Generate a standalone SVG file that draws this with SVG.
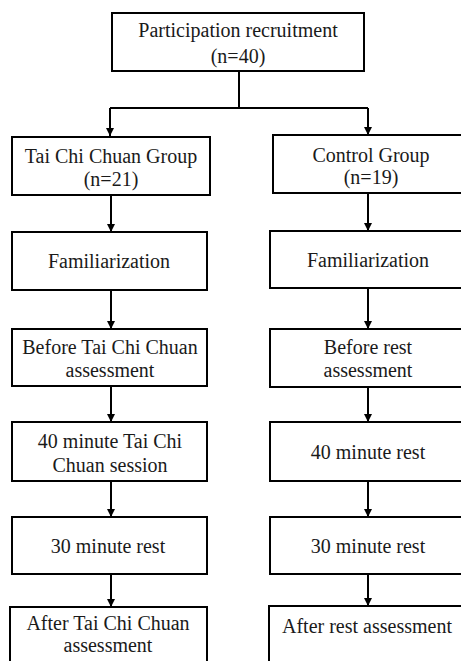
<svg xmlns="http://www.w3.org/2000/svg" width="461" height="661" viewBox="0 0 461 661">
<style>
.box{fill:#fff;stroke:#000;stroke-width:2}
.t{font-family:"Liberation Serif","Times New Roman",serif;font-size:20px;fill:#1a1a1a;text-anchor:middle}
.c{fill:none;stroke:#000;stroke-width:2}
</style>
<defs>
<marker id="ah" markerUnits="userSpaceOnUse" markerWidth="8" markerHeight="8" refX="8" refY="4" orient="auto">
<path d="M0,0 L8,4 L0,8 Z" fill="#000"/>
</marker>
</defs>
<rect width="461" height="661" fill="#fff"/>
<g id="connectors">
<path class="c" d="M239,71 V108"/>
<path class="c" d="M110,108 H368"/>
<path class="c" d="M110,108 V136" marker-end="url(#ah)"/>
<path class="c" d="M368,108 V135" marker-end="url(#ah)"/>
<path class="c" d="M111,195 V232" marker-end="url(#ah)"/>
<path class="c" d="M111,290 V329" marker-end="url(#ah)"/>
<path class="c" d="M111,386 V422" marker-end="url(#ah)"/>
<path class="c" d="M111,481 V517" marker-end="url(#ah)"/>
<path class="c" d="M111,574 V607" marker-end="url(#ah)"/>
<path class="c" d="M368,193 V231" marker-end="url(#ah)"/>
<path class="c" d="M368,288 V329" marker-end="url(#ah)"/>
<path class="c" d="M368,387 V422" marker-end="url(#ah)"/>
<path class="c" d="M368,481 V517" marker-end="url(#ah)"/>
<path class="c" d="M368,574 V606" marker-end="url(#ah)"/>
</g>
<g id="recruit">
<rect class="box" x="112" y="13" width="252" height="58"/>
<text class="t" x="238" y="37">Participation recruitment</text>
<text class="t" x="238" y="63">(n=40)</text>
</g>
<g id="tcc-group">
<rect class="box" x="12" y="137" width="198" height="58"/>
<text class="t" x="111" y="163">Tai Chi Chuan Group</text>
<text class="t" x="111" y="186">(n=21)</text>
</g>
<g id="ctrl-group">
<rect class="box" x="273" y="135" width="192" height="58"/>
<text class="t" x="371" y="162">Control Group</text>
<text class="t" x="371" y="184">(n=19)</text>
</g>
<g id="tcc-fam">
<rect class="box" x="12" y="232" width="195" height="58"/>
<text class="t" x="109" y="268">Familiarization</text>
</g>
<g id="ctrl-fam">
<rect class="box" x="270" y="231" width="195" height="57"/>
<text class="t" x="368" y="267">Familiarization</text>
</g>
<g id="tcc-before">
<rect class="box" x="12" y="329" width="195" height="57"/>
<text class="t" x="110" y="354">Before Tai Chi Chuan</text>
<text class="t" x="110" y="377">assessment</text>
</g>
<g id="ctrl-before">
<rect class="box" x="270" y="329" width="195" height="58"/>
<text class="t" x="368" y="354">Before rest</text>
<text class="t" x="368" y="377">assessment</text>
</g>
<g id="tcc-session">
<rect class="box" x="12" y="422" width="195" height="59"/>
<text class="t" x="110" y="448">40 minute Tai Chi</text>
<text class="t" x="110" y="472">Chuan session</text>
</g>
<g id="ctrl-rest40">
<rect class="box" x="270" y="422" width="195" height="59"/>
<text class="t" x="368" y="459">40 minute rest</text>
</g>
<g id="tcc-rest30">
<rect class="box" x="12" y="517" width="195" height="57"/>
<text class="t" x="108" y="553">30 minute rest</text>
</g>
<g id="ctrl-rest30">
<rect class="box" x="270" y="517" width="195" height="57"/>
<text class="t" x="368" y="553">30 minute rest</text>
</g>
<g id="tcc-after">
<rect class="box" x="10" y="607" width="197" height="70"/>
<text class="t" x="108" y="630">After Tai Chi Chuan</text>
<text class="t" x="108" y="652">assessment</text>
</g>
<g id="ctrl-after">
<rect class="box" x="269" y="606" width="196" height="70"/>
<text class="t" x="367" y="633">After rest assessment</text>
</g>
</svg>
